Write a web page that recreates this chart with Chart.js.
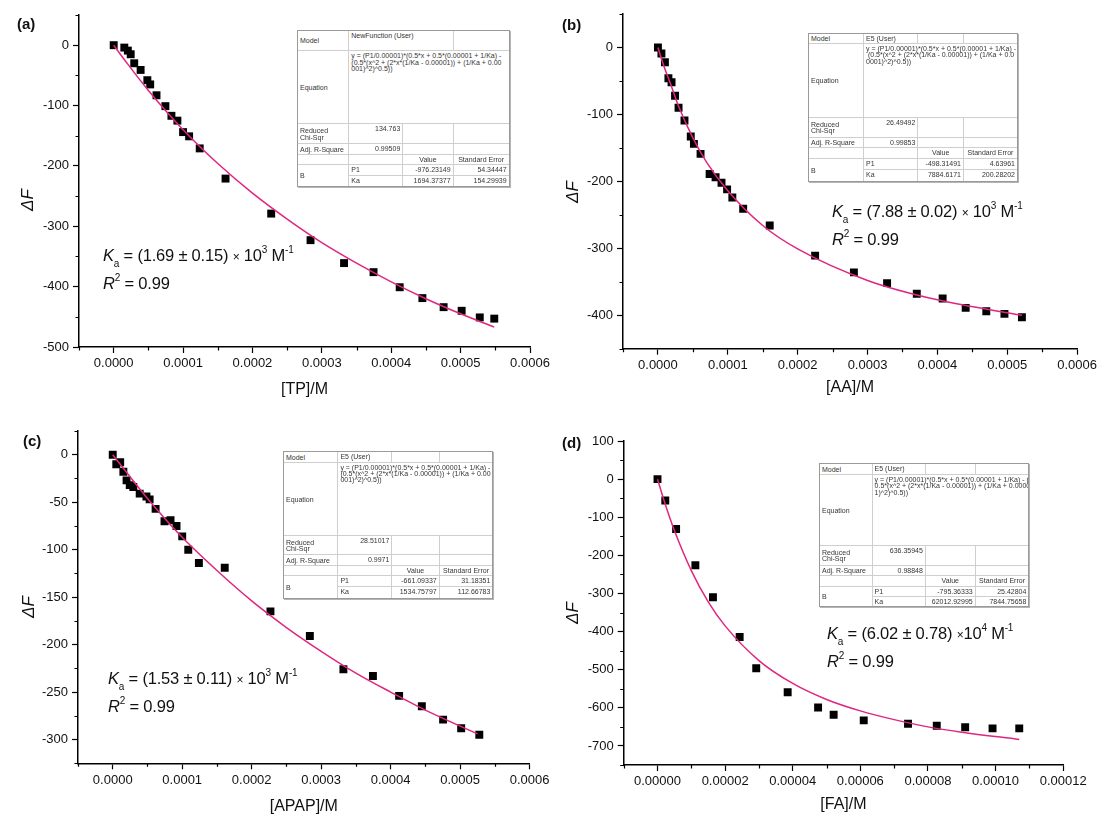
<!DOCTYPE html>
<html>
<head>
<meta charset="utf-8">
<script src="https://cdn.jsdelivr.net/npm/chart.js@4.4.0/dist/chart.umd.min.js"></script>
<style>
  html, body { margin: 0; padding: 0; background: #fff; }
  #wrap { position: relative; width: 1100px; height: 814px; overflow: hidden; font-family: "Liberation Sans", Arial, sans-serif; color: #111; }
  canvas { position: absolute; left: 0; top: 0; }
  .lbl { position: absolute; font-weight: bold; font-size: 15px; line-height: 1; }
  .yt { position: absolute; font-size: 17px; font-style: italic; white-space: nowrap; line-height: 1; transform: translate(-50%, -50%) rotate(-90deg); }
  .ann { position: absolute; font-size: 16.5px; white-space: nowrap; line-height: 1; letter-spacing: -0.2px; }
  .ann sub { font-size: 10px; vertical-align: -6px; line-height: 0; }
  .ann sup { font-size: 10px; vertical-align: 8px; line-height: 0; }
  .ann .x { font-size: 12px; }
  .tbl { position: absolute; display: grid; gap: 1px; background: #cfcfcf; border: 1px solid #999; box-shadow: 1px 1px 0 #b5b5b5; font-size: 7px; color: #333; opacity: 0.99; -webkit-font-smoothing: antialiased; }
  .tbl div { background: #fff; overflow: hidden; white-space: pre; line-height: 6.4px; padding: 2px 2px 0 2px; display: flex; min-width: 0; min-height: 0; }
</style>
</head>
<body>
<div id="wrap">
  <canvas id="cA" width="1100" height="814"></canvas>
  <canvas id="cB" width="1100" height="814"></canvas>
  <canvas id="cC" width="1100" height="814"></canvas>
  <canvas id="cD" width="1100" height="814"></canvas>
</div>
<script>
// ---- data ----
// (a) TP
const tpConc = [0, 0.0000153, 0.0000204, 0.0000245, 0.0000296, 0.0000388, 0.0000485, 0.0000526, 0.0000617, 0.0000745, 0.0000832, 0.0000918, 0.0001, 0.0001087, 0.000124, 0.0001612, 0.000227, 0.0002837, 0.000332, 0.0003745, 0.0004122, 0.0004449, 0.0004755, 0.0005015, 0.0005276, 0.0005485];
const tpDF = [0, -4, -9, -15, -30, -41, -58, -65, -83, -101, -117, -125, -144, -151, -171, -221, -279, -323, -361, -376, -401, -419, -434, -440, -451, -453];
const tpFitX = [0, 0.00002, 0.00005, 0.0001, 0.00015, 0.0002, 0.00025, 0.0003, 0.00035, 0.0004, 0.00045, 0.0005, 0.0005485];
const tpFitY = [0, -31, -75, -140, -196, -245, -288, -327, -361, -392, -420, -445, -467];

// (b) AA
const aaConc = [0, 0.000005, 0.00001, 0.000015, 0.0000195, 0.0000245, 0.0000295, 0.000038, 0.000047, 0.0000515, 0.000061, 0.000074, 0.0000825, 0.000091, 0.000099, 0.0001065, 0.000122, 0.00016, 0.000225, 0.0002805, 0.000328, 0.0003705, 0.0004075, 0.0004405, 0.00047, 0.000496, 0.000521];
const aaDF = [0, -9, -22, -46, -52, -72, -90, -109, -133, -144, -159, -189, -194, -202, -212, -224, -241, -266, -311, -336, -352, -368, -375, -389, -394, -398, -403];
const aaFitX = [0, 0.000005, 0.00001, 0.00002, 0.00003, 0.00005, 0.00007, 0.0001, 0.00015, 0.0002, 0.0003, 0.0004, 0.000521];
const aaFitY = [0, -17, -32, -60, -89, -135, -172, -214, -266, -301, -348, -377, -400];

// (c) APAP
const apapConc = [0, 0.0000051, 0.0000107, 0.0000153, 0.0000199, 0.0000245, 0.0000296, 0.0000388, 0.0000485, 0.0000531, 0.0000617, 0.0000745, 0.0000832, 0.0000918, 0.0001, 0.0001087, 0.000124, 0.0001612, 0.000227, 0.0002837, 0.000332, 0.0003745, 0.0004122, 0.0004449, 0.0004755, 0.0005015, 0.0005276];
const apapDF = [0, -10, -8, -18, -27, -32, -34, -41, -44, -47, -57, -70, -69, -75, -86, -100, -114, -119, -165, -191, -226, -233, -254, -265, -279, -288, -295];
const apapFitX = [0, 0.00005, 0.0001, 0.00015, 0.0002, 0.00025, 0.0003, 0.00035, 0.0004, 0.00045, 0.000525];
const apapFitY = [0, -46, -87, -122, -154, -182, -207, -230, -250, -269, -294];

// (d) FA
const faConc = [0, 0.0000023, 0.0000055, 0.0000112, 0.0000164, 0.0000243, 0.0000292, 0.0000385, 0.0000475, 0.0000521, 0.000061, 0.0000741, 0.0000826, 0.000091, 0.0000991, 0.000107];
const faDF = [0, -56, -131, -226, -310, -414, -496, -559, -599, -618, -633, -642, -647, -651, -654, -654];
const faFitX = [0, 0.000002, 0.000005, 0.00001, 0.000015, 0.00002, 0.00003, 0.00004, 0.00005, 0.00006, 0.00007, 0.00008, 0.00009, 0.000107];
const faFitY = [0, -58, -135, -240, -322, -385, -476, -536, -578, -608, -631, -650, -664, -683];

// tick values
const xTicks6 = [0, 0.0001, 0.0002, 0.0003, 0.0004, 0.0005, 0.0006];
const xTicksFA = [0, 0.00002, 0.00004, 0.00006, 0.00008, 0.0001, 0.00012];
const yTicksTP = [0, -100, -200, -300, -400, -500];
const yTicksAA = [0, -100, -200, -300, -400];
const yTicksAPAP = [0, -50, -100, -150, -200, -250, -300];
const yTicksFA = [100, 0, -100, -200, -300, -400, -500, -600, -700];

// fit report tables
const tpTable = { model: 'NewFunction (User)', eq: ['y = (P1/0.00001)*(0.5*x + 0.5*(0.00001 + 1/Ka) -', '(0.5*(x^2 + (2*x*(1/Ka - 0.00001)) + (1/Ka + 0.00', '001)^2)^0.5))'], chi: '134.763', r2: '0.99509', p1: ['-976.23149', '54.34447'], ka: ['1694.37377', '154.29939'] };
const aaTable = { model: 'E5 (User)', eq: ['y = (P1/0.00001)*(0.5*x + 0.5*(0.00001 + 1/Ka) -', ' (0.5*(x^2 + (2*x*(1/Ka - 0.00001)) + (1/Ka + 0.0', '0001)^2)^0.5))'], chi: '26.49492', r2: '0.99853', p1: ['-498.31491', '4.63961'], ka: ['7884.6171', '200.28202'] };
const apapTable = { model: 'E5 (User)', eq: ['y = (P1/0.00001)*(0.5*x + 0.5*(0.00001 + 1/Ka) -', '(0.5*(x^2 + (2*x*(1/Ka - 0.00001)) + (1/Ka + 0.00', '001)^2)^0.5))'], chi: '28.51017', r2: '0.9971', p1: ['-661.09337', '31.18351'], ka: ['1534.75797', '112.66783'] };
const faTable = { model: 'E5 (User)', eq: ['y = (P1/0.00001)*(0.5*x + 0.5*(0.00001 + 1/Ka) - (', '0.5*(x^2 + (2*x*(1/Ka - 0.00001)) + (1/Ka + 0.0000', '1)^2)^0.5))'], chi: '636.35945', r2: '0.98848', p1: ['-795.36333', '25.42804'], ka: ['62012.92995', '7844.75658'] };

// ---- layout ----
const FONT = "'Liberation Sans', Arial, sans-serif";
const W = 1100, H = 814, YW = 75;
const FIT_COLOR = '#e0267f';

const panels = [
  { id: 'cA', tag: '(a)', x: tpConc, y: tpDF, fx: tpFitX, fy: tpFitY, xTicks: xTicks6, yTicks: yTicksTP,
    xMin: -0.00005, xMax: 0.0006, yMin: -500, yMax: 50, xMinor: 0.00005, yMinor: 50, xDec: 4,
    xTitle: '[TP]/M', box: [79, 15, 530, 347], xh: 52, titlePad: 2.6,
    tagPos: [17, 16], yTitlePos: [27, 200],
    ann: ['(1.69 ± 0.15) ', '<span class="x">×</span> 10', '3'], annPos: [103, 247],
    table: tpTable, tPos: { left: 297, top: 30, cols: [50.3, 53, 49.3, 55], rows: [19.3, 72, 19, 9.7, 9.3, 10, 9.7], modelSpan: true } },
  { id: 'cB', tag: '(b)', x: aaConc, y: aaDF, fx: aaFitX, fy: aaFitY, xTicks: xTicks6, yTicks: yTicksAA,
    xMin: -0.00005, xMax: 0.0006, yMin: -450, yMax: 50, xMinor: 0.00005, yMinor: 50, xDec: 4,
    xTitle: '[AA]/M', box: [623, 14, 1078.6, 348.7], xh: 52, titlePad: 6.3,
    tagPos: [562, 17], yTitlePos: [572, 192],
    ann: ['(7.88 ± 0.02) ', '<span class="x">×</span> 10', '3'], annPos: [832, 203],
    table: aaTable, tPos: { left: 808, top: 33, cols: [54, 53.4, 44.6, 53], rows: [8.7, 73.6, 18.4, 9.6, 9.7, 10, 10.7] } },
  { id: 'cC', tag: '(c)', x: apapConc, y: apapDF, fx: apapFitX, fy: apapFitY, xTicks: xTicks6, yTicks: yTicksAPAP,
    xMin: -0.00005, xMax: 0.0006, yMin: -325, yMax: 25, xMinor: 0.00005, yMinor: 25, xDec: 4,
    xTitle: '[APAP]/M', box: [78, 431, 529.6, 763.3], xh: 50, titlePad: 0.2,
    tagPos: [23, 433], yTitlePos: [28, 607],
    ann: ['(1.53 ± 0.11) ', '<span class="x">×</span> 10', '3'], annPos: [108, 670],
    table: apapTable, tPos: { left: 283, top: 451, cols: [53.4, 53, 46.3, 52.7], rows: [9.6, 72.7, 18, 9.3, 9.7, 9.7, 10.6] } },
  { id: 'cD', tag: '(d)', x: faConc, y: faDF, fx: faFitX, fy: faFitY, xTicks: xTicksFA, yTicks: yTicksFA,
    xMin: -0.00001, xMax: 0.00012, yMin: -750, yMax: 100, xMinor: 0.00001, yMinor: 50, xDec: 5,
    xTitle: '[FA]/M', box: [623.7, 441, 1063.2, 765], xh: 48, titlePad: 1.6,
    tagPos: [562, 435], yTitlePos: [572, 613],
    ann: ['(6.02 ± 0.78) ', '<span class="x">×</span>10', '4'], annPos: [827, 625],
    table: faTable, tPos: { left: 819, top: 463, cols: [51.6, 52.3, 48.8, 52.7], rows: [9.7, 70.3, 18.7, 9, 10, 9, 9] } }
];

function minorTicksFor(p) {
  return {
    id: 'minorTicks',
    afterDraw(chart) {
      const ctx = chart.ctx, ca = chart.chartArea;
      const each = (sc, step, majors, fn) => {
        for (let i = Math.ceil(sc.min / step - 1e-6); i * step <= sc.max + step * 1e-6; i++) {
          const v = i * step;
          if (majors.some(m => Math.abs(m - v) < step * 1e-3)) continue;
          fn(Math.round(sc.getPixelForValue(v)) + 0.5);
        }
      };
      ctx.save();
      ctx.strokeStyle = '#000';
      ctx.lineWidth = 1.2;
      ctx.beginPath();
      each(chart.scales.x, p.xMinor, p.xTicks, px => { ctx.moveTo(px, ca.bottom); ctx.lineTo(px, ca.bottom + 3.5); });
      each(chart.scales.y, p.yMinor, p.yTicks, py => { ctx.moveTo(ca.left, py); ctx.lineTo(ca.left - 3.5, py); });
      ctx.stroke();
      ctx.restore();
    }
  };
}

function makeChart(p) {
  const [L, T, R, B] = p.box;
  new Chart(document.getElementById(p.id), {
    type: 'scatter',
    data: {
      datasets: [
        {
          type: 'line',
          data: p.fx.map((x, i) => ({ x, y: p.fy[i] })),
          borderColor: FIT_COLOR,
          borderWidth: 1.5,
          pointRadius: 0,
          fill: false,
          cubicInterpolationMode: 'monotone'
        },
        {
          data: p.x.map((x, i) => ({ x, y: p.y[i] })),
          pointStyle: 'rect',
          pointRadius: 5.6,
          backgroundColor: '#000',
          borderColor: '#000',
          borderWidth: 0
        }
      ]
    },
    options: {
      responsive: false,
      animation: false,
      devicePixelRatio: 1,
      layout: { padding: { left: L - YW, top: T, right: W - R, bottom: H - B - p.xh } },
      plugins: { legend: { display: false }, tooltip: { enabled: false } },
      scales: {
        x: {
          type: 'linear',
          min: p.xMin,
          max: p.xMax,
          afterBuildTicks: s => { s.ticks = p.xTicks.map(v => ({ value: v })); },
          afterFit: s => { s.height = p.xh; },
          ticks: { callback: v => Number(v).toFixed(p.xDec), font: { size: 13, family: FONT }, color: '#111', padding: 3, maxRotation: 0, autoSkip: false },
          grid: { drawOnChartArea: false, tickLength: 6, tickColor: '#000', tickWidth: 1.2 },
          border: { color: '#000', width: 1.5 },
          title: { display: true, text: p.xTitle, font: { size: 16, family: FONT, lineHeight: 0.8 }, color: '#111', padding: { top: 0, bottom: p.titlePad } }
        },
        y: {
          type: 'linear',
          min: p.yMin,
          max: p.yMax,
          afterBuildTicks: s => { s.ticks = p.yTicks.map(v => ({ value: v })); },
          afterFit: s => { s.width = YW; },
          ticks: { callback: v => String(v), font: { size: 13, family: FONT }, color: '#111', padding: 4, autoSkip: false },
          grid: { drawOnChartArea: false, tickLength: 6, tickColor: '#000', tickWidth: 1.2 },
          border: { color: '#000', width: 1.5 }
        }
      }
    },
    plugins: [minorTicksFor(p)]
  });
}

function addDiv(parent, cls, html, style) {
  const d = document.createElement('div');
  if (cls) d.className = cls;
  d.innerHTML = html;
  Object.assign(d.style, style);
  parent.appendChild(d);
  return d;
}

function buildTable(wrap, t, pos) {
  const el = addDiv(wrap, 'tbl', '', {
    left: pos.left + 'px', top: pos.top + 'px',
    gridTemplateColumns: pos.cols.map(c => c + 'px').join(' '),
    gridTemplateRows: pos.rows.map(r => r + 'px').join(' ')
  });
  const cell = (text, col, row, align) => {
    const c = document.createElement('div');
    c.textContent = text;
    c.style.gridColumn = col;
    c.style.gridRow = row;
    if (align && align.includes('mid')) c.style.alignItems = 'center';
    if (align && align.includes('right')) c.style.justifyContent = 'flex-end';
    if (align && align.includes('center')) c.style.justifyContent = 'center';
    el.appendChild(c);
  };
  cell('Model', '1', '1', 'mid');
  if (pos.modelSpan) {
    cell(t.model, '2 / 4', '1');
  } else {
    cell(t.model, '2', '1');
    cell('', '3', '1');
  }
  cell('', '4', '1');
  cell('Equation', '1', '2', 'mid');
  cell(t.eq.join('\n'), '2 / 5', '2');
  cell('Reduced\nChi-Sqr', '1', '3', 'mid');
  cell(t.chi, '2', '3', 'right');
  cell('', '3', '3'); cell('', '4', '3');
  cell('Adj. R-Square', '1', '4', 'mid');
  cell(t.r2, '2', '4', 'right');
  cell('', '3', '4'); cell('', '4', '4');
  cell('', '1', '5'); cell('', '2', '5');
  cell('Value', '3', '5', 'center');
  cell('Standard Error', '4', '5', 'center');
  cell('B', '1', '6 / 8', 'mid');
  cell('P1', '2', '6');
  cell(t.p1[0], '3', '6', 'right');
  cell(t.p1[1], '4', '6', 'right');
  cell('Ka', '2', '7');
  cell(t.ka[0], '3', '7', 'right');
  cell(t.ka[1], '4', '7', 'right');
}

const wrap = document.getElementById('wrap');
panels.forEach(p => {
  makeChart(p);
  addDiv(wrap, 'lbl', p.tag, { left: p.tagPos[0] + 'px', top: p.tagPos[1] + 'px' });
  addDiv(wrap, 'yt', '&Delta;F', { left: p.yTitlePos[0] + 'px', top: p.yTitlePos[1] + 'px' });
  addDiv(wrap, 'ann', '<i>K</i><sub>a</sub> = ' + p.ann[0] + p.ann[1] + '<sup>' + p.ann[2] + '</sup> M<sup>-1</sup>',
    { left: p.annPos[0] + 'px', top: p.annPos[1] + 'px' });
  addDiv(wrap, 'ann', '<i>R</i><sup>2</sup> = 0.99', { left: p.annPos[0] + 'px', top: (p.annPos[1] + 28) + 'px' });
  buildTable(wrap, p.table, p.tPos);
});
</script>
</body>
</html>
